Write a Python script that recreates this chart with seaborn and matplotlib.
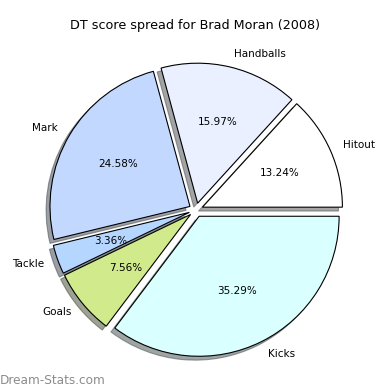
import matplotlib
matplotlib.use("Agg")
import matplotlib.pyplot as plt
import seaborn as sns

categories = ["Hitout", "Handballs", "Mark", "Tackle", "Goals", "Kicks"]
shares = [13.24, 15.97, 24.58, 3.36, 7.56, 35.29]
colors = ["#ffffff", "#eaf0ff", "#c3d8ff", "#b4d6ff", "#d0ea8c", "#d9ffff"]

sns.set_style("white")
plt.rcParams['font.family'] = ['DejaVu Sans']
plt.rcParams['text.color'] = 'black'

fig = plt.figure(figsize=(3.9, 3.9), dpi=100)
ax = fig.add_axes([21 / 390, 5 / 390, 350 / 390, 350 / 390])

wedges, texts, autotexts = ax.pie(
    shares, labels=categories, colors=colors, explode=[0.05] * len(shares),
    autopct="%1.2f%%", shadow=True, startangle=0, counterclock=True,
    labeldistance=1.1, pctdistance=0.6,
    wedgeprops={'edgecolor': 'black', 'linewidth': 0.8},
    textprops={'fontsize': 7.5, 'color': 'black'})
ax.set_xlim(-1.25, 1.25)
ax.set_ylim(-1.25, 1.25)
ax.set_aspect('equal')
ax.axis('off')

fig.text(0.5, 1 - 25 / 390, "DT score spread for Brad Moran (2008)",
         ha='center', va='center', fontsize=9.2, color='black')
fig.text(0.0, 10 / 390, "Dream-Stats.com", ha='left', va='center',
         fontsize=8.7, color='#8c8c8c')

fig.savefig("out.png", dpi=100)
